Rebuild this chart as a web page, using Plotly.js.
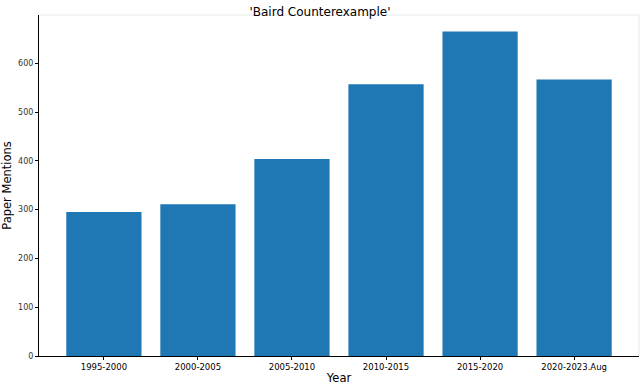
<!DOCTYPE html>
<html>
<head>
<meta charset="utf-8">
<script src="https://cdn.plot.ly/plotly-3.0.1.min.js"></script>
<style>
  html, body { margin: 0; padding: 0; background: #fff; }
  #plot { width: 640px; height: 385px; }
</style>
</head>
<body>
<div id="plot"></div>
<script>
const periods = ['1995-2000', '2000-2005', '2005-2010', '2010-2015', '2015-2020', '2020-2023.Aug'];
const mentions = [295, 311, 404, 557, 665, 567];
const yTicks = [0, 100, 200, 300, 400, 500, 600];

const data = [{
    x: periods.map((_, i) => i),
    y: mentions,
    type: 'bar',
    marker: {color: '#1f77b4'},
    width: 0.8,
    hoverinfo: 'x+y'
}];

const layout = {
    width: 640, height: 385,
    margin: {l: 39, r: 1, t: 15, b: 29},
    paper_bgcolor: '#fff', plot_bgcolor: '#fff',
    font: {family: 'DejaVu Sans, sans-serif', color: '#000'},
    title: {text: "'Baird Counterexample'", font: {size: 12}, x: 0.5, xanchor: 'center', y: 1.005, yanchor: 'top'},
    showlegend: false,
    xaxis: {
        range: [-0.69, 5.69],
        tickvals: periods.map((_, i) => i),
        ticktext: periods,
        tickfont: {size: 8.5},
        ticks: 'outside', ticklen: 3, tickcolor: '#000',
        showline: true, linecolor: '#000', linewidth: 1,
        showgrid: false, zeroline: false,
        title: {text: 'Year', font: {size: 11.5}, standoff: 2}
    },
    yaxis: {
        range: [0, 699],
        tickvals: yTicks,
        tickfont: {size: 8, color: '#333'},
        ticks: 'outside', ticklen: 3, tickcolor: '#000',
        showline: true, linecolor: '#000', linewidth: 1,
        showgrid: false, zeroline: false,
        title: {text: 'Paper Mentions', font: {size: 11.5}, standoff: 6}
    },
    shapes: [
        {type: 'line', xref: 'paper', yref: 'paper', x0: 0, x1: 1, y0: 1, y1: 1, line: {color: '#e8e8e8', width: 1}},
        {type: 'line', xref: 'paper', yref: 'paper', x0: 1, x1: 1, y0: 0, y1: 1, line: {color: '#e8e8e8', width: 1}}
    ]
};

Plotly.newPlot('plot', data, layout, {displayModeBar: false, staticPlot: true});
</script>
</body>
</html>
